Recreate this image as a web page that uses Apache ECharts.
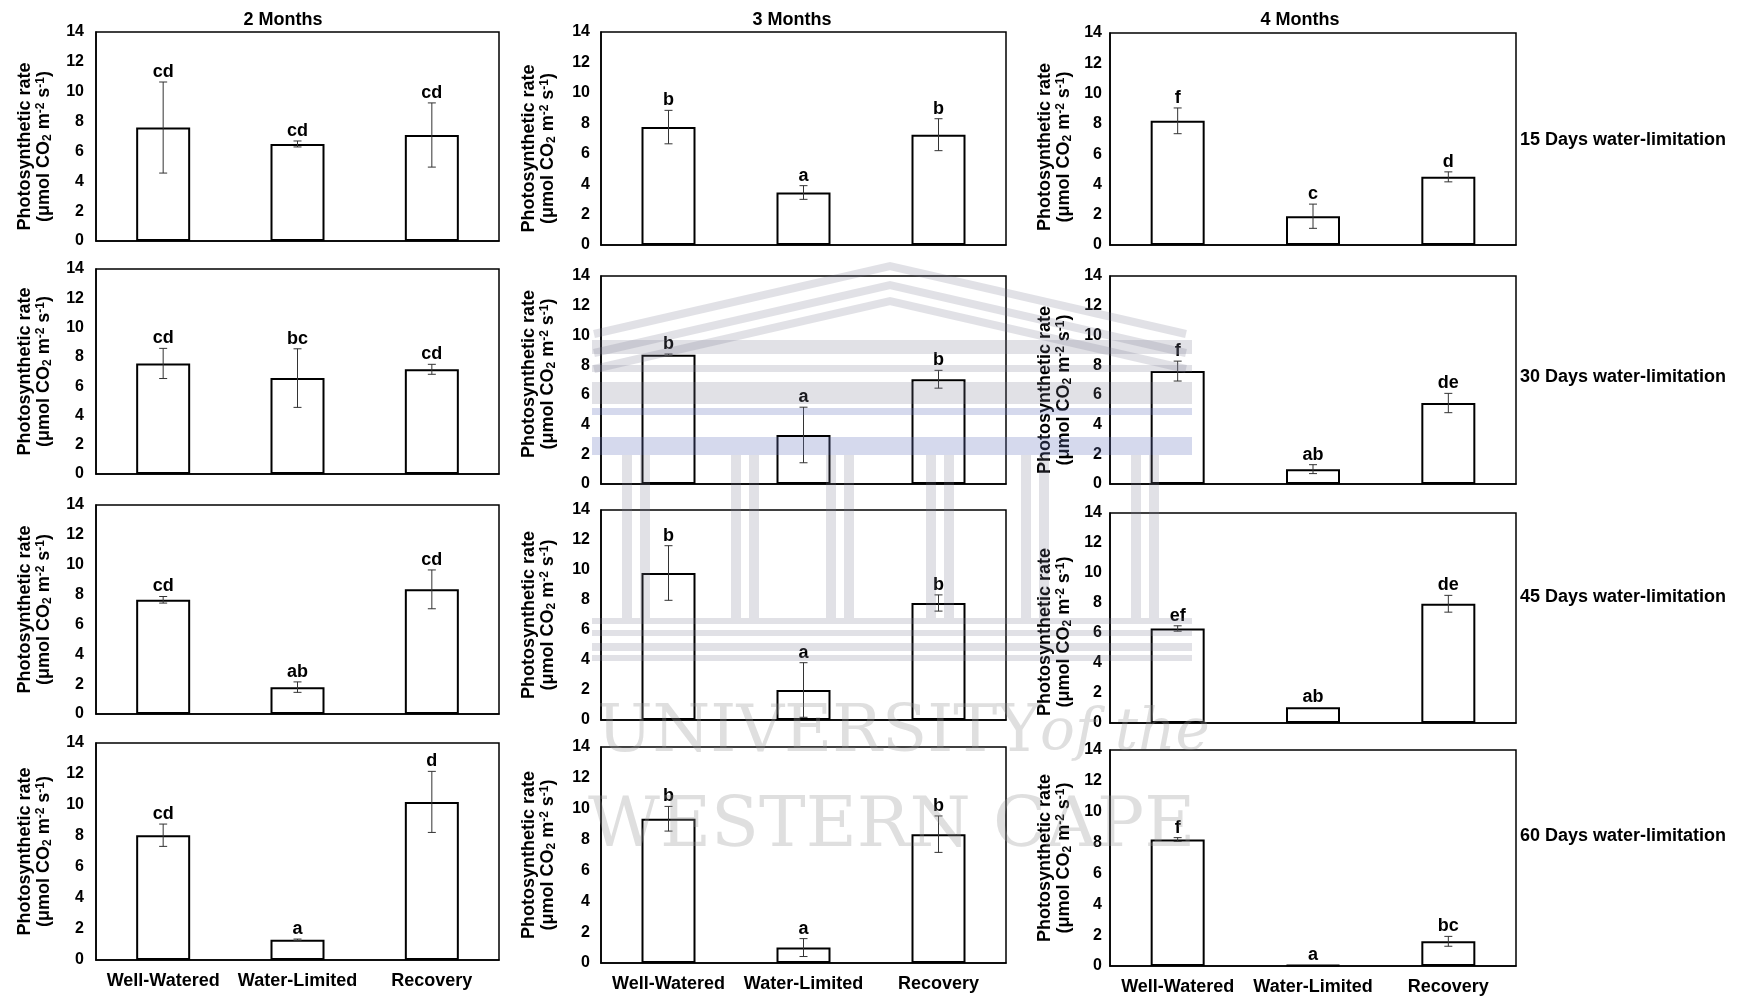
<!DOCTYPE html>
<html>
<head>
<meta charset="utf-8">
<script src="https://cdn.jsdelivr.net/npm/echarts@6/dist/echarts.min.js"></script>
<style>
  html, body { margin: 0; padding: 0; background: #fff; }
  #chart { width: 1739px; height: 997px; }
</style>
</head>
<body>
<div id="chart"></div>
<script>
// Treatments on the x axis of every panel
const categories = ['Well-Watered', 'Water-Limited', 'Recovery'];
// Plant age (columns) and length of water limitation (rows)
const ages = ['2 Months', '3 Months', '4 Months'];
const durations = ['15 Days water-limitation', '30 Days water-limitation', '45 Days water-limitation', '60 Days water-limitation'];
// Photosynthetic rate axis
const yMin = 0, yMax = 14, yStep = 2;

// Mean photosynthetic rate, one row per duration (15, 30, 45, 60 days)
const mean2M = [[7.6, 6.5, 7.1], [7.55, 6.55, 7.15], [7.65, 1.8, 8.35], [8.05, 1.3, 10.2]];
const mean3M = [[7.75, 3.45, 7.25], [8.7, 3.3, 7.05], [9.8, 2.0, 7.8], [9.35, 1.0, 8.35]];
const mean4M = [[8.2, 1.9, 4.5], [7.6, 1.0, 5.45], [6.3, 1.05, 7.95], [8.2, 0.06, 1.6]];

// Error bar half-lengths
const err2M = [[3.05, 0.2, 2.15], [1.03, 2.0, 0.34], [0.22, 0.35, 1.3], [0.72, 0.05, 1.97]];
const err3M = [[1.1, 0.45, 1.05], [0.05, 1.87, 0.6], [1.82, 1.82, 0.54], [0.8, 0.58, 1.18]];
const err4M = [[0.85, 0.8, 0.33], [0.67, 0.3, 0.65], [0.18, 0, 0.56], [0.12, 0, 0.32]];

// Significance letters
const letters2M = [['cd', 'cd', 'cd'], ['cd', 'bc', 'cd'], ['cd', 'ab', 'cd'], ['cd', 'a', 'd']];
const letters3M = [['b', 'a', 'b'], ['b', 'a', 'b'], ['b', 'a', 'b'], ['b', 'a', 'b']];
const letters4M = [['f', 'c', 'd'], ['f', 'ab', 'de'], ['ef', 'ab', 'de'], ['f', 'a', 'bc']];

const meansByAge = [mean2M, mean3M, mean4M];
const errsByAge = [err2M, err3M, err4M];
const lettersByAge = [letters2M, letters3M, letters4M];

const FONT = "'Liberation Sans', Arial, Helvetica, sans-serif";

// Panel frames
const colLeft = [96, 601, 1110];
const colWidth = [403, 405, 406];
const rowBox = [
  [[32, 241], [269, 474], [505, 714], [743, 960]],
  [[32, 245], [276, 484], [510, 720], [747, 963]],
  [[33, 245], [276, 484], [513, 723], [750, 966]]
];
const nameGap = [42, 43, 36];
// how far each axis title sits below the middle of its panel
const nameDrop = [[10, 0, 0, 0], [10, -6, 0, 0], [8, 10, 14, 0]];
const tickMargin = [12, 11, 8];
const titleX = [283, 792, 1300];
const rowLabelY = [140, 377, 597, 836];

const yName = '{t|Photosynthetic rate}\n{t|(\u03bcmol CO}{sub|2}{t| m}{sup|-2}{t| s}{sup|-1}{t|)}';

function errorBarRenderer(letters) {
  return function (params, api) {
    const k = api.value(0), m = api.value(1), e = api.value(2);
    const hi = api.coord([k, m + e]);
    const lo = api.coord([k, m - e]);
    const cap = 4;
    const children = [];
    if (e > 0.02) {
      const st = { stroke: '#333', lineWidth: 1 };
      children.push({ type: 'line', shape: { x1: hi[0], y1: hi[1], x2: lo[0], y2: lo[1] }, style: st });
      children.push({ type: 'line', shape: { x1: hi[0] - cap, y1: hi[1], x2: hi[0] + cap, y2: hi[1] }, style: st });
      children.push({ type: 'line', shape: { x1: lo[0] - cap, y1: lo[1], x2: lo[0] + cap, y2: lo[1] }, style: st });
    }
    children.push({
      type: 'text', x: hi[0], y: hi[1] - 1,
      style: {
        text: letters[params.dataIndex], fill: '#000', fontSize: 18, fontWeight: 'bold',
        fontFamily: FONT, align: 'center', verticalAlign: 'bottom'
      }
    });
    return { type: 'group', children: children };
  };
}

const grid = [], xAxis = [], yAxis = [], series = [];
for (let c = 0; c < 3; c++) {
  for (let r = 0; r < 4; r++) {
    const i = grid.length;
    const box = rowBox[c][r];
    const drop = nameDrop[c][r];
    grid.push({
      left: colLeft[c], top: box[0], width: colWidth[c], height: box[1] - box[0],
      show: true, borderColor: '#000', borderWidth: 1.5, backgroundColor: 'transparent'
    });
    xAxis.push({
      type: 'category', gridIndex: i, data: categories,
      axisLine: { lineStyle: { color: '#000', width: 1.5 } },
      axisTick: { show: false },
      axisLabel: { show: r === 3, interval: 0, color: '#000', fontSize: 18, fontWeight: 'bold', fontFamily: FONT, margin: 12 }
    });
    yAxis.push({
      type: 'value', gridIndex: i, min: yMin, max: yMax, interval: yStep,
      axisLine: { show: true, lineStyle: { color: '#000', width: 1.5 } },
      axisTick: { show: false },
      splitLine: { show: false },
      axisLabel: { color: '#000', fontSize: 16, fontWeight: 'bold', fontFamily: FONT, margin: tickMargin[c] },
      name: yName, nameLocation: 'middle', nameRotate: 90, nameGap: nameGap[c],
      nameTextStyle: {
        color: '#000', fontFamily: FONT,
        padding: drop >= 0 ? [0, 2 * drop, 0, 0] : [0, 0, 0, -2 * drop],
        rich: {
          t: { fontSize: 18, fontWeight: 'bold', fontFamily: FONT, lineHeight: 19, color: '#000' },
          sub: { fontSize: 12, fontWeight: 'bold', fontFamily: FONT, lineHeight: 11, verticalAlign: 'bottom', color: '#000' },
          sup: { fontSize: 12, fontWeight: 'bold', fontFamily: FONT, lineHeight: 11, verticalAlign: 'top', color: '#000' }
        }
      }
    });
    const means = meansByAge[c][r];
    const errs = errsByAge[c][r];
    series.push({
      type: 'bar', xAxisIndex: i, yAxisIndex: i, data: means, barWidth: 54, silent: true,
      itemStyle: { color: '#fff', borderColor: '#000', borderWidth: 2 }
    });
    series.push({
      type: 'custom', xAxisIndex: i, yAxisIndex: i, silent: true, z: 5,
      data: means.map((m, k) => [k, m, errs[k]]),
      encode: { x: 0, y: 1 },
      renderItem: errorBarRenderer(lettersByAge[c][r])
    });
  }
}

const textEls = [];
ages.forEach((t, c) => textEls.push({
  type: 'text', x: titleX[c], y: 20, silent: true,
  style: { text: t, fill: '#000', fontSize: 18, fontWeight: 'bold', fontFamily: FONT, align: 'center', verticalAlign: 'middle' }
}));
durations.forEach((t, r) => textEls.push({
  type: 'text', x: 1520, y: rowLabelY[r], silent: true,
  style: { text: t, fill: '#000', fontSize: 18, fontWeight: 'bold', fontFamily: FONT, align: 'left', verticalAlign: 'middle' }
}));

// Faint repository watermark laid over the middle of the figure
const wmGray = 'rgba(120,120,140,0.22)';
const wmBlue = 'rgba(105,120,190,0.28)';
const wm = [];
[266, 285, 301].forEach(yA => wm.push({
  type: 'polyline', silent: true, z: 100,
  shape: { points: [[594, yA + 68], [890, yA], [1186, yA + 68]] },
  style: { stroke: wmGray, lineWidth: 8, fill: null }
}));
[[340, 14, wmGray], [365, 7, wmGray], [382, 22, wmGray], [408, 7, wmBlue], [437, 18, wmBlue],
 [618, 6, wmGray], [630, 6, wmGray], [643, 8, wmGray], [655, 6, wmGray]].forEach(b => wm.push({
  type: 'rect', silent: true, z: 100,
  shape: { x: 592, y: b[0], width: 600, height: b[1] },
  style: { fill: b[2] }
}));
[636, 745, 840, 940, 1035, 1145].forEach(cx => {
  [-14, 4].forEach(dx => wm.push({
    type: 'rect', silent: true, z: 100,
    shape: { x: cx + dx, y: 455, width: 10, height: 163 },
    style: { fill: wmGray }
  }));
});
const wmText = 'rgba(150,150,150,0.3)';
wm.push({
  type: 'text', x: 597, y: 734, silent: true, z: 100,
  style: { text: 'UNIVERSITY', fill: wmText, fontSize: 66, fontFamily: "'DejaVu Serif', serif", align: 'left', verticalAlign: 'middle' }
});
wm.push({
  type: 'text', x: 1040, y: 734, silent: true, z: 100,
  style: { text: 'of the', fill: wmText, fontSize: 58, fontStyle: 'italic', fontFamily: "'DejaVu Serif', serif", align: 'left', verticalAlign: 'middle' }
});
wm.push({
  type: 'text', x: 588, y: 828, silent: true, z: 100,
  style: { text: 'WESTERN CAPE', fill: wmText, fontSize: 70, fontFamily: "'DejaVu Serif', serif", align: 'left', verticalAlign: 'middle' }
});

const chart = echarts.init(document.getElementById('chart'), null, { renderer: 'canvas' });
chart.setOption({
  animation: false,
  backgroundColor: '#fff',
  grid: grid, xAxis: xAxis, yAxis: yAxis, series: series,
  graphic: textEls.concat(wm)
});
</script>
</body>
</html>
